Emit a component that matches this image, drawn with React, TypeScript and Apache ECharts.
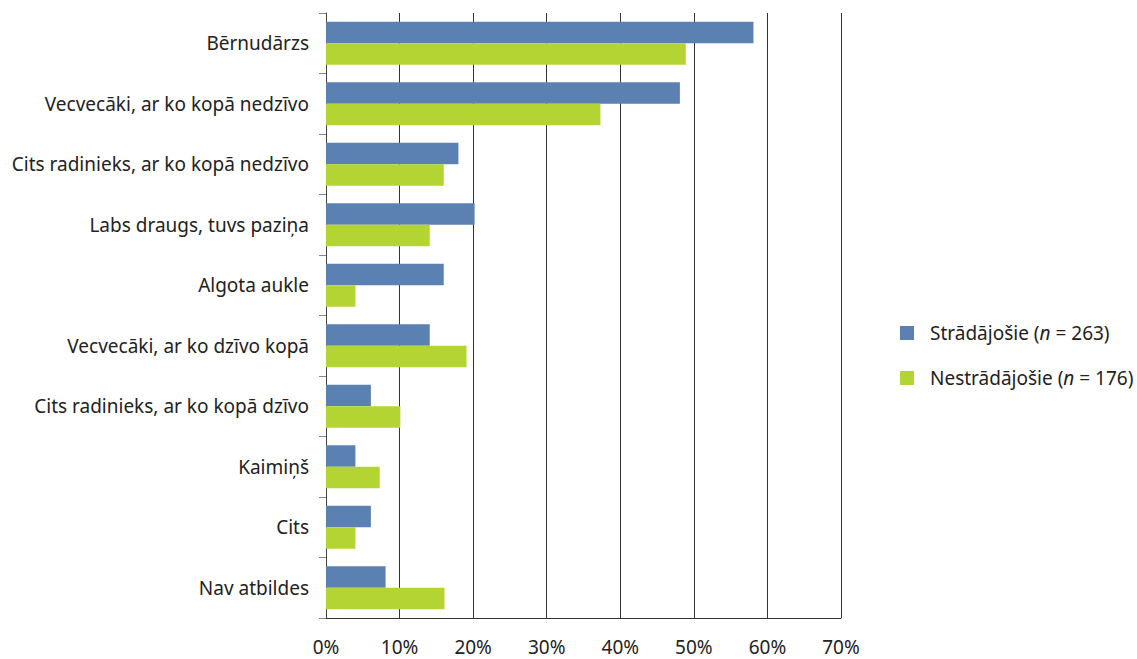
import React, { useEffect, useRef } from "react";
import * as echarts from "echarts";

const categories = [
  "Bērnudārzs",
  "Vecvecāki, ar ko kopā nedzīvo",
  "Cits radinieks, ar ko kopā nedzīvo",
  "Labs draugs, tuvs paziņa",
  "Algota aukle",
  "Vecvecāki, ar ko dzīvo kopā",
  "Cits radinieks, ar ko kopā dzīvo",
  "Kaimiņš",
  "Cits",
  "Nav atbildes",
];
const working = [58.1, 48.1, 18.0, 20.2, 16.0, 14.1, 6.1, 4.0, 6.1, 8.1];
const notWorking = [48.9, 37.3, 16.0, 14.1, 4.0, 19.1, 10.1, 7.3, 4.0, 16.1];
const seriesNames = ["Strādājošie (n = 263)", "Nestrādājošie (n = 176)"];
const xTicks = { min: 0, max: 70, interval: 10 };

const FONT = "Noto Sans";
const FS = 19;

export default function App() {
  const ref = useRef<HTMLDivElement>(null);
  useEffect(() => {
    const chart = echarts.init(ref.current!, null, { renderer: "svg" });
    chart.setOption({
      animation: false,
      textStyle: { fontFamily: FONT },
      grid: { left: 326, right: 296, top: 13, bottom: 41, containLabel: false },
      legend: {
        orient: "vertical",
        left: 895,
        top: 317,
        itemWidth: 14,
        itemHeight: 14,
        itemGap: 23,
        icon: "rect",
        data: seriesNames,
        formatter: (name: string) => {
          const m = name.match(/^(.*\()n( = .*)$/);
          if (!m) return name;
          return `{s|${m[1]}}{i|n}{a|${m[2]}}`;
        },
        textStyle: {
          color: "#222",
          fontSize: FS,
          fontFamily: FONT,
          lineHeight: 22,
          rich: {
            s: { fontSize: FS, fontFamily: FONT, color: "#222", padding: [0, 0, 0, 11] },
            a: { fontSize: FS, fontFamily: FONT, color: "#222" },
            i: { fontSize: FS, fontFamily: FONT, color: "#222", fontStyle: "italic" },
          },
        },
      },
      xAxis: {
        type: "value",
        min: xTicks.min,
        max: xTicks.max,
        interval: xTicks.interval,
        axisLabel: {
          formatter: "{value}%",
          color: "#222",
          fontSize: FS,
          fontFamily: FONT,
          margin: 19,
        },
        axisLine: { show: true, lineStyle: { color: "#333", width: 1 } },
        axisTick: { show: false },
        splitLine: { show: true, lineStyle: { color: "#333", width: 1 } },
      },
      yAxis: {
        type: "category",
        data: categories,
        inverse: true,
        axisLabel: { color: "#222", fontSize: FS, fontFamily: FONT, margin: 17 },
        axisLine: { show: true, lineStyle: { color: "#444", width: 1 } },
        axisTick: { show: true, length: 7, inside: false, lineStyle: { color: "#888" } },
        splitLine: { show: false },
      },
      series: [
        {
          name: seriesNames[0],
          type: "bar",
          data: working,
          barGap: "0%",
          barCategoryGap: "29%",
          itemStyle: { color: "#5b80b2" },
        },
        {
          name: seriesNames[1],
          type: "bar",
          data: notWorking,
          barGap: "0%",
          barCategoryGap: "29%",
          itemStyle: { color: "#b4d433" },
        },
      ],
    });
    return () => chart.dispose();
  }, []);
  return (
    <div
      ref={ref}
      style={{ position: "fixed", left: 0, top: 0, width: 1137, height: 659, background: "#fff" }}
    />
  );
}
